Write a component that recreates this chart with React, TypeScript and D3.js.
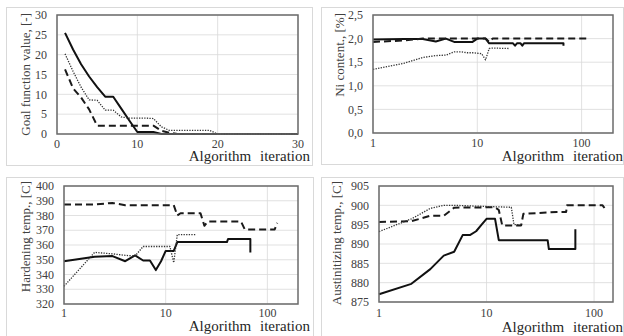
import React, { useRef, useEffect } from "react";
import * as d3 from "d3";

type Pt = [number, number];

// goal function value (linear x)
const goalSolid: Pt[] = [[1, 25.5], [2, 21.3], [3, 17.6], [4, 14.5], [5, 11.8], [6, 9.4], [7, 9.4], [8, 6.4], [9, 3.4], [10, 0.5], [11, 0.5], [12, 0.5], [13, 0], [30, 0]];
const goalDashed: Pt[] = [[1, 16.3], [2, 11.5], [3, 9.2], [4, 6.2], [5, 2.1], [6, 2.1], [7, 2.1], [8, 2.1], [9, 2.1], [10, 2.1], [11, 2.1], [12, 2.1], [13, 0.8], [14, 0.3], [15, 0], [30, 0]];
const goalDotted: Pt[] = [[1, 20.2], [2, 15.8], [3, 11.8], [4, 8.6], [5, 8.5], [6, 6.0], [7, 6.0], [8, 4.3], [9, 4.0], [10, 4.0], [11, 4.0], [12, 3.9], [13, 1.8], [14, 0.9], [19, 0.9], [20, 0], [30, 0]];

// Ni content
const niSolid: Pt[] = [[1, 1.98], [2, 1.99], [3, 1.99], [4, 1.94], [5, 2.0], [6, 1.93], [9, 1.93], [10, 2.0], [12, 2.0], [13, 1.9], [22, 1.9], [23, 1.85], [24, 1.9], [26, 1.9], [27, 1.85], [28, 1.9], [67, 1.9], [67, 1.85]];
const niDashed: Pt[] = [[1, 1.93], [2, 1.96], [3, 2.0], [12, 2.0], [13, 1.93], [14, 2.0], [120, 2.0]];
const niDotted: Pt[] = [[1, 1.35], [2, 1.48], [3, 1.6], [4, 1.64], [5, 1.65], [6, 1.72], [7, 1.72], [8, 1.7], [9, 1.7], [10, 1.69], [11, 1.68], [12, 1.55], [13, 1.79], [14, 1.8], [20, 1.79]];

// hardening temperature
const hardSolid: Pt[] = [[1, 349], [2, 352], [3, 352.5], [4, 349], [5, 353], [6, 349.5], [7, 349.5], [8, 343], [9, 349], [10, 356], [12, 356], [13, 362], [40, 362], [41, 364], [68, 364], [68, 355]];
const hardDashed: Pt[] = [[1, 387.5], [2, 387.5], [3, 388.5], [4, 387], [12, 387], [13, 380], [14, 381.5], [22, 381.5], [24, 373], [26, 376], [55, 376], [60, 370.5], [118, 370.5], [125, 375]];
const hardDotted: Pt[] = [[1, 332], [2, 355], [3, 354], [4, 353], [5, 352.5], [6, 359], [11, 359], [12, 348], [13, 367], [20, 367]];

// austenitizing temperature
const austSolid: Pt[] = [[1, 877], [2, 879.7], [3, 883.5], [4, 887], [5, 888], [6, 892.3], [7, 892.3], [8, 893.3], [9, 895], [10, 896.5], [12, 896.5], [13, 891], [37, 891], [38, 888.7], [67, 888.7], [67, 893.8]];
const austDashed: Pt[] = [[1, 895.7], [2, 895.9], [3, 897.3], [4, 897.3], [5, 899.4], [12, 899.5], [13, 898.8], [14, 894.8], [21, 894.8], [22, 897.8], [45, 898.3], [55, 898.3], [56, 900], [120, 900], [125, 899.3]];
const austDotted: Pt[] = [[1, 893.2], [2, 896.5], [3, 899.2], [4, 900], [5, 900], [10, 899.7], [17, 899.5], [18, 895], [21, 895]];

const goalTicksX = [0, 10, 20, 30];
const goalTicksY = [0, 5, 10, 15, 20, 25, 30];
const logTicksX = [1, 10, 100];
const niTicksY = [0, 0.5, 1.0, 1.5, 2.0, 2.5];
const hardTicksY = [320, 330, 340, 350, 360, 370, 380, 390, 400];
const austTicksY = [875, 880, 885, 890, 895, 900, 905];

const xTitle = "Algorithm iteration";
const serif = "'Liberation Serif', 'Times New Roman', serif";

const panels = [
  {
    frame: [6, 7, 306, 158], plot: [57, 298, 15, 134], log: false, xDomain: [0, 30], yDomain: [0, 30],
    xTicks: goalTicksX, yTicks: goalTicksY, fmt: (v: number) => String(v), yTitle: "Goal function value, [-]",
    tickDy: 14, titleY: 161, titleEnd: 310, ytX: 30, ytTop: 13,
    series: [goalSolid, goalDashed, goalDotted],
  },
  {
    frame: [321, 7, 302, 157], plot: [373, 613, 15, 133], log: true, xDomain: [1, 200], yDomain: [0, 2.5],
    xTicks: logTicksX, yTicks: niTicksY, fmt: (v: number) => v.toFixed(1).replace(".", ","), yTitle: "Ni content., [%]",
    tickDy: 14, titleY: 161, titleEnd: 623, ytX: 344, ytTop: 13,
    series: [niSolid, niDashed, niDotted],
  },
  {
    frame: [6, 177, 307, 165], plot: [64, 298, 186, 304], log: true, xDomain: [1, 200], yDomain: [320, 400],
    xTicks: logTicksX, yTicks: hardTicksY, fmt: (v: number) => String(v), yTitle: "Hardening temp., [C]",
    tickDy: 13, titleY: 331, titleEnd: 310, ytX: 30, ytTop: 181,
    series: [hardSolid, hardDashed, hardDotted],
  },
  {
    frame: [321, 177, 302, 165], plot: [379, 613, 186, 302], log: true, xDomain: [1, 150], yDomain: [875, 905],
    xTicks: logTicksX, yTicks: austTicksY, fmt: (v: number) => String(v), yTitle: "Austinitizing temp., [C]",
    tickDy: 15, titleY: 332, titleEnd: 623, ytX: 341, ytTop: 181,
    series: [austSolid, austDashed, austDotted],
  },
];

const lineStyles = [
  { stroke: "#111", width: 2, dash: null },
  { stroke: "#1a1a1a", width: 2, dash: "7,4" },
  { stroke: "#333", width: 1.3, dash: "1.3,1.3" },
];

const App = () => {
  const ref = useRef<SVGSVGElement>(null);

  useEffect(() => {
    const svg = d3.select(ref.current);
    svg.selectAll("*").remove();
    svg.append("rect").attr("width", 624).attr("height", 336).attr("fill", "#fff");

    panels.forEach((p) => {
      const [fx, fy, fw, fh] = p.frame;
      const [x0, x1, y0, y1] = p.plot;
      svg.append("rect").attr("x", fx + 0.5).attr("y", fy + 0.5).attr("width", fw).attr("height", fh)
        .attr("fill", "#fff").attr("stroke", "#d9d9d9");

      const x = (p.log ? d3.scaleLog() : d3.scaleLinear()).domain(p.xDomain).range([x0, x1]);
      const y = d3.scaleLinear().domain(p.yDomain).range([y1, y0]);
      const g = svg.append("g").style("font-family", serif);

      // grid
      g.selectAll(".gy").data(p.yTicks).enter().append("line")
        .attr("x1", x0).attr("x2", x1).attr("y1", (d) => y(d)).attr("y2", (d) => y(d))
        .attr("stroke", "#d9d9d9").attr("stroke-width", 0.8);
      g.selectAll(".gx").data(p.xTicks).enter().append("line")
        .attr("x1", (d) => x(d)).attr("x2", (d) => x(d)).attr("y1", y0).attr("y2", y1)
        .attr("stroke", "#d9d9d9").attr("stroke-width", 0.8);

      // series
      p.series.forEach((s, i) => {
        const st = lineStyles[i];
        const line = d3.line<Pt>().x((d) => x(d[0])).y((d) => y(d[1]));
        g.append("path").attr("d", line(s)).attr("fill", "none")
          .attr("stroke", st.stroke).attr("stroke-width", st.width)
          .attr("stroke-dasharray", st.dash).attr("stroke-linejoin", "round");
      });

      g.append("rect").attr("x", x0).attr("y", y0).attr("width", x1 - x0).attr("height", y1 - y0)
        .attr("fill", "none").attr("stroke", "#6b6b6b").attr("stroke-width", 1.5);

      // tick labels
      g.selectAll(".ty").data(p.yTicks).enter().append("text")
        .attr("x", x0 - 10).attr("y", (d) => y(d)).attr("dy", "0.35em").attr("text-anchor", "end")
        .style("font-size", "12px").attr("fill", "#404040")
        .text((d) => p.fmt(d));
      g.selectAll(".tx").data(p.xTicks).enter().append("text")
        .attr("x", (d) => x(d)).attr("y", y1 + p.tickDy).attr("text-anchor", "middle")
        .style("font-size", "12px").attr("fill", "#404040")
        .text((d) => String(d));

      g.append("text").attr("x", p.titleEnd).attr("y", p.titleY).attr("text-anchor", "end")
        .style("font-size", "15px").style("word-spacing", "5px")
        .attr("fill", "#262626").text(xTitle);

      g.append("text").attr("transform", `translate(${p.ytX},${p.ytTop}) rotate(-90)`)
        .attr("text-anchor", "end").style("font-size", "13px")
        .attr("fill", "#404040").text(p.yTitle);
    });
  }, []);

  return (
    <svg ref={ref} width={624} height={336} style={{ position: "absolute", left: 0, top: 0 }}></svg>
  );
};

export default App;
